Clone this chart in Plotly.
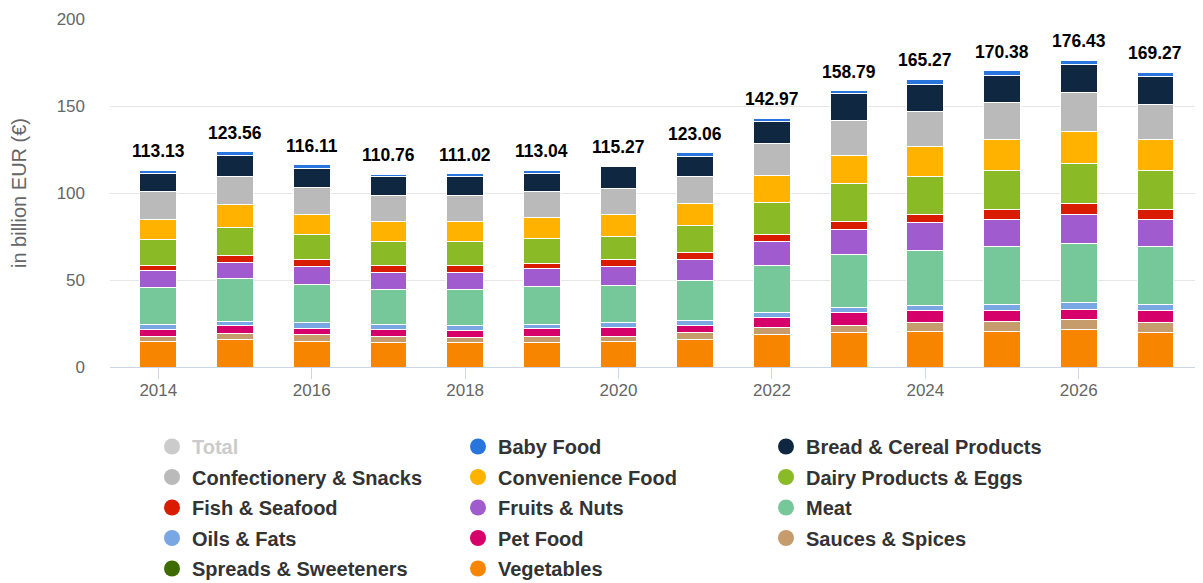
import plotly.graph_objects as go

years = list(range(2014, 2028))
totals = [113.13, 123.56, 116.11, 110.76, 111.02, 113.04, 115.27, 123.06,
          142.97, 158.79, 165.27, 170.38, 176.43, 169.27]

vegetables = [14.8, 15.9, 14.5, 14.0, 14.0, 14.0, 14.5, 15.9, 18.8, 19.7, 20.3, 20.3, 21.7, 19.7]
sauces_spices = [2.6, 3.5, 3.9, 3.4, 2.9, 3.4, 3.3, 3.8, 3.8, 4.4, 5.2, 5.9, 5.7, 5.8]
pet_food = [4.1, 4.2, 4.0, 4.0, 4.1, 5.0, 4.8, 3.9, 5.9, 7.3, 6.7, 6.0, 5.9, 6.7]
oils_fats = [3.0, 2.8, 3.1, 2.9, 2.9, 2.1, 2.9, 3.0, 2.9, 2.9, 3.3, 3.8, 3.9, 3.8]
meat = [21.3, 24.4, 22.2, 20.5, 20.6, 21.5, 21.5, 23.4, 27.2, 30.1, 31.7, 33.1, 33.9, 33.1]
fruits_nuts = [9.6, 9.5, 9.9, 9.8, 9.8, 10.7, 10.6, 11.5, 13.6, 14.7, 15.7, 15.8, 16.8, 15.8]
fish_seafood = [3.2, 3.9, 3.9, 4.0, 4.0, 2.9, 3.9, 4.2, 4.1, 4.8, 4.9, 5.7, 5.8, 5.7]
dairy_eggs = [14.4, 15.7, 14.5, 13.8, 13.9, 14.5, 13.6, 15.5, 18.1, 21.4, 21.4, 22.6, 23.4, 22.6]
convenience = [11.9, 13.6, 11.8, 11.5, 11.6, 11.9, 12.7, 12.5, 15.8, 16.5, 17.6, 17.6, 18.1, 17.6]
confectionery = [15.7, 15.7, 15.6, 14.6, 14.8, 14.7, 14.9, 15.7, 18.5, 19.6, 20.3, 21.5, 22.8, 20.3]
bread_cereal = [10.7, 12.6, 10.4, 10.7, 10.8, 10.4, 12.5, 11.6, 12.5, 15.5, 15.5, 15.5, 15.6, 15.8]
baby_food = [1.8, 1.8, 2.3, 1.6, 1.6, 1.9, None, 2.1, 1.8, 1.9, 2.6, 2.6, 2.8, 2.4]
spreads = [None] * 14  # not visible in the chart

# stacking order (bottom -> top)
series = [
    ("Vegetables", vegetables, "#f78500"),
    ("Sauces & Spices", sauces_spices, "#c69c6d"),
    ("Spreads & Sweeteners", spreads, "#3e6b00"),
    ("Pet Food", pet_food, "#d5006a"),
    ("Oils & Fats", oils_fats, "#78a7e4"),
    ("Meat", meat, "#76c799"),
    ("Fruits & Nuts", fruits_nuts, "#a05ccf"),
    ("Fish & Seafood", fish_seafood, "#d91c00"),
    ("Dairy Products & Eggs", dairy_eggs, "#8aba26"),
    ("Convenience Food", convenience, "#ffb300"),
    ("Confectionery & Snacks", confectionery, "#bababa"),
    ("Bread & Cereal Products", bread_cereal, "#0f2740"),
    ("Baby Food", baby_food, "#2876dd"),
]
colors = {n: c for n, _, c in series}

legend_cols = [
    ["Total", "Confectionery & Snacks", "Fish & Seafood", "Oils & Fats", "Spreads & Sweeteners"],
    ["Baby Food", "Convenience Food", "Fruits & Nuts", "Pet Food", "Vegetables"],
    ["Bread & Cereal Products", "Dairy Products & Eggs", "Meat", "Sauces & Spices"],
]

FONT = "Liberation Sans, Arial, Helvetica, sans-serif"
fig = go.Figure()

for name, vals, col in series:
    fig.add_trace(go.Bar(
        x=years, y=vals, name=name, marker_color=col,
        marker_line=dict(color="#ffffff", width=1),
        showlegend=False, legendgroup=name,
        hovertemplate="%{x}: %{y}<extra>" + name + "</extra>",
    ))

legend_ids = ["legend", "legend2", "legend3"]
for li, names in enumerate(legend_cols):
    for name in names:
        if name == "Total":
            fig.add_trace(go.Scatter(
                x=[None], y=[None], mode="markers", legend=legend_ids[li],
                name="<span style='color:#999999'>Total</span>", legendgroup="Total",
                marker=dict(symbol="circle", size=16, color="#999999"),
                visible="legendonly",
            ))
        else:
            fig.add_trace(go.Scatter(
                x=[None], y=[None], mode="markers", legend=legend_ids[li],
                name=name, legendgroup=name,
                marker=dict(symbol="circle", size=16, color=colors[name]),
            ))

for yr, t in zip(years, totals):
    fig.add_annotation(
        x=yr, y=t, text=f"<b>{t:.2f}</b>", showarrow=False,
        yanchor="bottom", yshift=7,
        font=dict(family=FONT, size=17.5, color="#000000"),
    )

# page body adds an 8px offset; plot area should sit at page x 110..1203, y 19..367
OFF = 8
W, H = 1203 - OFF, 583 - OFF
PL, PT, PW, PH = 110 - OFF, 19 - OFF, 1093, 348
leg_common = dict(
    orientation="v", xref="paper", yref="paper",
    xanchor="left", yanchor="top", tracegroupgap=1.5,
    font=dict(family=FONT, size=20, color="#333333", weight="bold"),
    bgcolor="rgba(0,0,0,0)", itemclick=False, itemdoubleclick=False,
)
legend_x = [(152 - 110) / PW, (458 - 110) / PW, (766 - 110) / PW]
legend_y = (19 + PH - 427) / PH

fig.update_layout(
    width=W, height=H,
    margin=dict(l=PL, r=0, t=PT, b=H - PT - PH, autoexpand=False),
    barmode="stack", bargap=0.52,
    plot_bgcolor="#ffffff", paper_bgcolor="#ffffff",
    font=dict(family=FONT, color="#666666"),
    xaxis=dict(
        range=[2013.37, 2027.62], tickmode="array",
        tickvals=years[::2], ticktext=[str(y) for y in years[::2]],
        ticks="outside", ticklen=11, tickcolor="#ccd6eb", tickwidth=1,
        showline=True, linecolor="#ccd6eb", linewidth=1,
        showgrid=False, zeroline=False, automargin=False,
        ticklabelstandoff=-3,
        tickfont=dict(family=FONT, size=17, color="#666666"),
    ),
    yaxis=dict(
        range=[0, 200], tickvals=[0, 50, 100, 150, 200],
        showgrid=True, gridcolor="#e6e6e6", gridwidth=1,
        zeroline=False, showline=False, ticks="", automargin=False,
        ticklabelstandoff=24,
        tickfont=dict(family=FONT, size=17, color="#666666"),
        title=dict(text="in billion EUR (€)", standoff=26,
                   font=dict(family=FONT, size=20, color="#666666")),
    ),
    legend=dict(x=legend_x[0], y=legend_y, **leg_common),
    legend2=dict(x=legend_x[1], y=legend_y, **leg_common),
    legend3=dict(x=legend_x[2], y=legend_y, **leg_common),
)

fig.write_html("out.html")
